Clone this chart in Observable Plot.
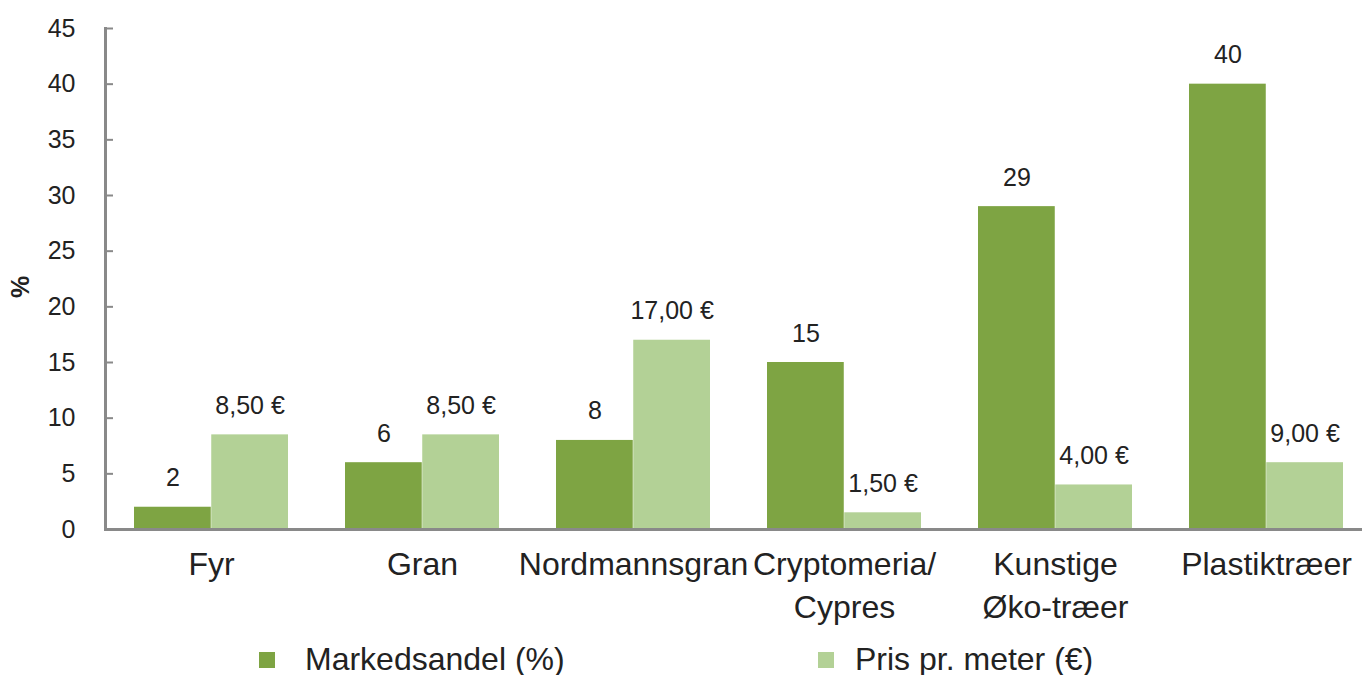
<!DOCTYPE html>
<html><head><meta charset="utf-8">
<script src="https://cdn.jsdelivr.net/npm/d3@7"></script>
<script src="https://cdn.jsdelivr.net/npm/@observablehq/plot@0.6"></script>
<style>
body{margin:0;background:#fff;font-family:"Liberation Sans",Arial,sans-serif;}
#legend{position:relative;height:43px;width:1362px;}
.item{position:absolute;top:6px;height:43px;display:flex;align-items:center;font-size:32px;color:#222;}
.sw{width:16px;height:16px;display:inline-block;}
</style>
</head><body>
<div id="chart"></div>
<div id="legend"></div>
<script>
const categories = ["Fyr","Gran","Nordmannsgran","Cryptomeria/Cypres","Kunstige Øko-træer","Plastiktræer"];
const categoryLabels = ["Fyr","Gran","Nordmannsgran","Cryptomeria/\nCypres","Kunstige\nØko-træer","Plastiktræer"];
const seriesNames = ["Markedsandel (%)","Pris pr. meter (€)"];
const markedsandel = [2,6,8,15,29,40];
const markedsandelLabels = ["2","6","8","15","29","40"];
const prisHeights = [8.5,8.5,17,1.5,4,6];
const prisLabels = ["8,50 €","8,50 €","17,00 €","1,50 €","4,00 €","9,00 €"];
const yTicks = [0,5,10,15,20,25,30,35,40,45];
const colors = ["#7ea443","#b3d196"];

const W = 1362, H = 632, ml = 105, mr = 0, mt = 28, mb = H - 529;
const pi = 0.27, po = 0.105, align = 0.6;
const step = (W - ml - mr) / (categories.length - pi + 2 * po);
const bw = step * (1 - pi);
const half = bw / 2;

const dark = categories.map((c, i) => ({cat: c, v: markedsandel[i], label: markedsandelLabels[i]}));
const light = categories.map((c, i) => ({cat: c, v: prisHeights[i], label: prisLabels[i]}));
const cats = categories.map((c, i) => ({cat: c, label: categoryLabels[i]}));
const gray = "#898989";
const txt = "#222";

const plot = Plot.plot({
  width: W, height: H,
  marginLeft: ml, marginRight: mr, marginTop: mt, marginBottom: mb,
  style: {fontFamily: '"Liberation Sans", Arial, sans-serif', background: "#fff"},
  x: {domain: categories, paddingInner: pi, paddingOuter: po, align: align, axis: null},
  y: {domain: [0, 45], axis: null},
  marks: [
    Plot.barY(dark, {x: "cat", y: "v", fill: colors[0], insetRight: half}),
    Plot.barY(light, {x: "cat", y: "v", fill: colors[1], insetLeft: half}),
    Plot.text(dark, {x: "cat", y: "v", text: "label", dx: -half / 2, dy: -21, lineAnchor: "bottom", fontSize: 25, fill: txt}),
    Plot.text(light, {x: "cat", y: "v", text: "label", dx: half / 2, dy: -21, lineAnchor: "bottom", fontSize: 25, fill: txt}),
    Plot.tickY(yTicks, {y: d => d, stroke: gray, strokeWidth: 2, insetRight: (W - ml - mr) - 8}),
    Plot.axisY(yTicks, {tickSize: 0, tickPadding: 30, fontSize: 25, fill: txt, label: null}),
    Plot.ruleY([0], {stroke: gray, strokeWidth: 3}),
    Plot.frame({anchor: "left", stroke: gray, strokeWidth: 3}),
    Plot.text(cats, {x: "cat", text: "label", frameAnchor: "bottom", lineAnchor: "top", dy: 15, fontSize: 32, lineHeight: 1.35, fill: txt}),
    Plot.text(["%"], {text: d => d, frameAnchor: "left", dx: -85, dy: 19, rotate: -90, fontSize: 25, fontWeight: "bold", fill: txt})
  ]
});
document.getElementById("chart").appendChild(plot);

const legend = document.getElementById("legend");
const legendX = [259, 818];
seriesNames.forEach((name, i) => {
  const item = document.createElement("div");
  item.className = "item";
  item.style.left = legendX[i] + "px";
  const sw = document.createElement("span");
  sw.className = "sw";
  sw.style.background = colors[i];
  sw.style.marginRight = (i === 0 ? 30 : 21) + "px";
  item.appendChild(sw);
  item.appendChild(document.createTextNode(name));
  legend.appendChild(item);
});
</script>
</body></html>
